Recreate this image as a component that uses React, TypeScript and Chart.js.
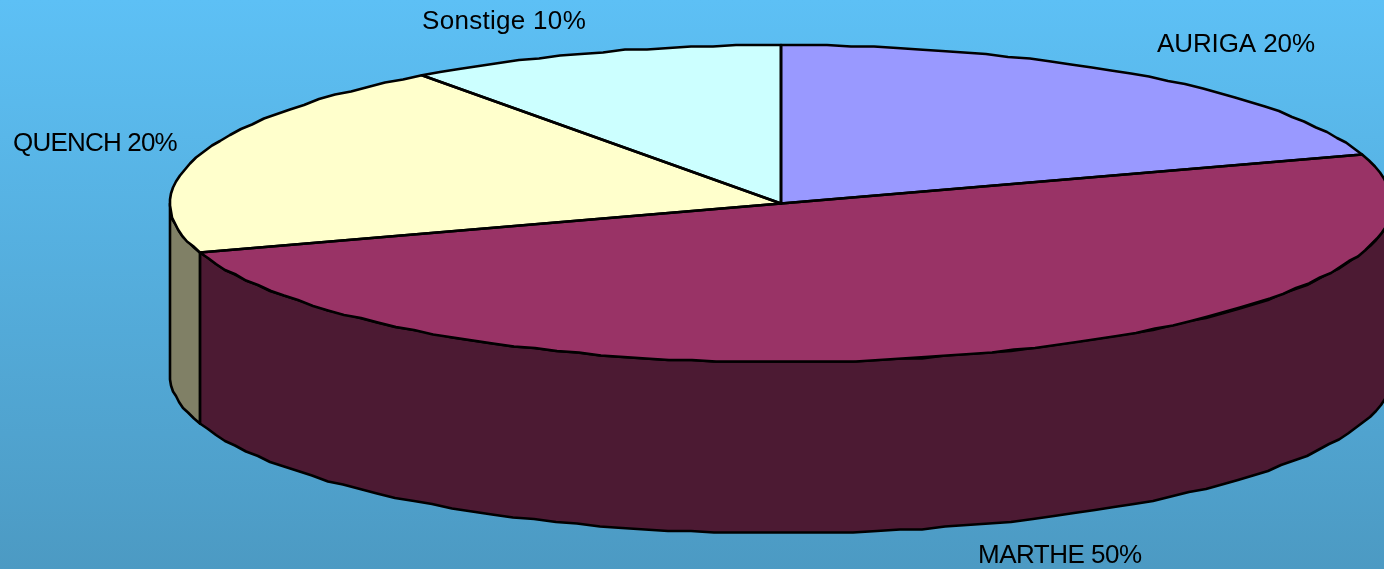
import React, { useEffect, useRef } from "react";
import { Chart, registerables } from "chart.js";

Chart.register(...registerables);

const categories = ["AURIGA", "MARTHE", "QUENCH", "Sonstige"];
const shares = [20, 50, 20, 10];
const topColors = ["#9999FF", "#993366", "#FFFFCC", "#CCFFFF"];
const wallColors = ["#4C4C80", "#4C1A33", "#808066", "#668080"];

const PIE_RADIUS = 611;
const SQUASH = 0.2595;
const DEPTH = 171;
const LINE = 2.6;
const FONT = '26px "Liberation Sans", Arial, sans-serif';
// anchor (left, baseline) and tracking of each slice's caption
const captionPlacement = [
  { x: 1157, y: 52, track: -0.1 },
  { x: 978, y: 563, track: -0.5 },
  { x: 13, y: 151, track: -0.8 },
  { x: 422, y: 29, track: 0.3 },
];

function roughArc(ctx: CanvasRenderingContext2D, cx: number, cy: number, rx: number, ry: number, a: number, b: number, move: boolean) {
  const step = (2.2 * Math.PI) / 180;
  const n = Math.max(1, Math.ceil(Math.abs(b - a) / step));
  for (let i = 0; i <= n; i++) {
    const t = a + ((b - a) * i) / n;
    const edge = i === 0 || i === n;
    const px = cx + rx * Math.cos(t);
    const py = cy + ry * Math.sin(t);
    const X = edge ? px : Math.round(px);
    const Y = edge ? py : Math.round(py / 1.5) * 1.5;
    if (i === 0 && move) ctx.moveTo(X, Y);
    else ctx.lineTo(X, Y);
  }
}

const pie3d = {
  id: "pie3d",
  beforeDatasetDraw(chart: any) {
    const ctx: CanvasRenderingContext2D = chart.ctx;
    const arcs = chart.getDatasetMeta(0).data;
    ctx.save();
    ctx.lineWidth = LINE;
    ctx.strokeStyle = "#000";
    ctx.lineJoin = "round";
    arcs.forEach((arc: any, i: number) => {
      const a = Math.max(arc.startAngle, 0);
      const b = Math.min(arc.endAngle, Math.PI);
      if (b <= a) return;
      const ry = arc.outerRadius * SQUASH;
      ctx.beginPath();
      roughArc(ctx, arc.x, arc.y, arc.outerRadius, ry, a, b, true);
      roughArc(ctx, arc.x, arc.y + DEPTH, arc.outerRadius, ry, b, a, false);
      ctx.closePath();
      ctx.fillStyle = wallColors[i];
      ctx.fill();
      ctx.stroke();
    });
    ctx.restore();
    // squash the library's own arcs into the tilted ellipse
    const cy = arcs[0].y;
    ctx.save();
    ctx.translate(0, cy);
    ctx.scale(1, SQUASH);
    ctx.translate(0, -cy);
  },
  afterDatasetDraw(chart: any) {
    const ctx: CanvasRenderingContext2D = chart.ctx;
    ctx.restore();
    const arcs = chart.getDatasetMeta(0).data;
    ctx.save();
    ctx.lineWidth = LINE;
    ctx.strokeStyle = "#000";
    ctx.lineJoin = "round";
    arcs.forEach((arc: any) => {
      const ry = arc.outerRadius * SQUASH;
      ctx.beginPath();
      ctx.moveTo(arc.x, arc.y);
      roughArc(ctx, arc.x, arc.y, arc.outerRadius, ry, arc.startAngle, arc.endAngle, false);
      ctx.closePath();
      ctx.stroke();
    });
    ctx.fillStyle = "#000";
    ctx.font = FONT;
    ctx.textBaseline = "alphabetic";
    categories.forEach((name, i) => {
      const p = captionPlacement[i];
      (ctx as any).letterSpacing = `${p.track}px`;
      ctx.fillText(`${name} ${shares[i]}%`, p.x, p.y);
    });
    ctx.restore();
  },
};

export default function App() {
  const ref = useRef<HTMLCanvasElement>(null);
  useEffect(() => {
    document.body.style.margin = "0";
    const chart = new Chart(ref.current!, {
      type: "pie",
      data: {
        labels: categories,
        datasets: [
          {
            data: shares,
            backgroundColor: topColors,
            borderWidth: 0,
            radius: PIE_RADIUS,
            clip: false,
          } as any,
        ],
      },
      options: {
        responsive: false,
        animation: false,
        events: [],
        layout: { padding: { left: 178, bottom: 162 } },
        plugins: { legend: { display: false }, tooltip: { enabled: false } },
      },
      plugins: [pie3d],
    });
    return () => chart.destroy();
  }, []);
  return (
    <div
      style={{
        width: 1384,
        height: 569,
        overflow: "hidden",
        background: "linear-gradient(180deg, #5DC0F5 0%, #4C9AC3 100%)",
      }}
    >
      <canvas ref={ref} width={1384} height={569} style={{ display: "block" }} />
    </div>
  );
}
